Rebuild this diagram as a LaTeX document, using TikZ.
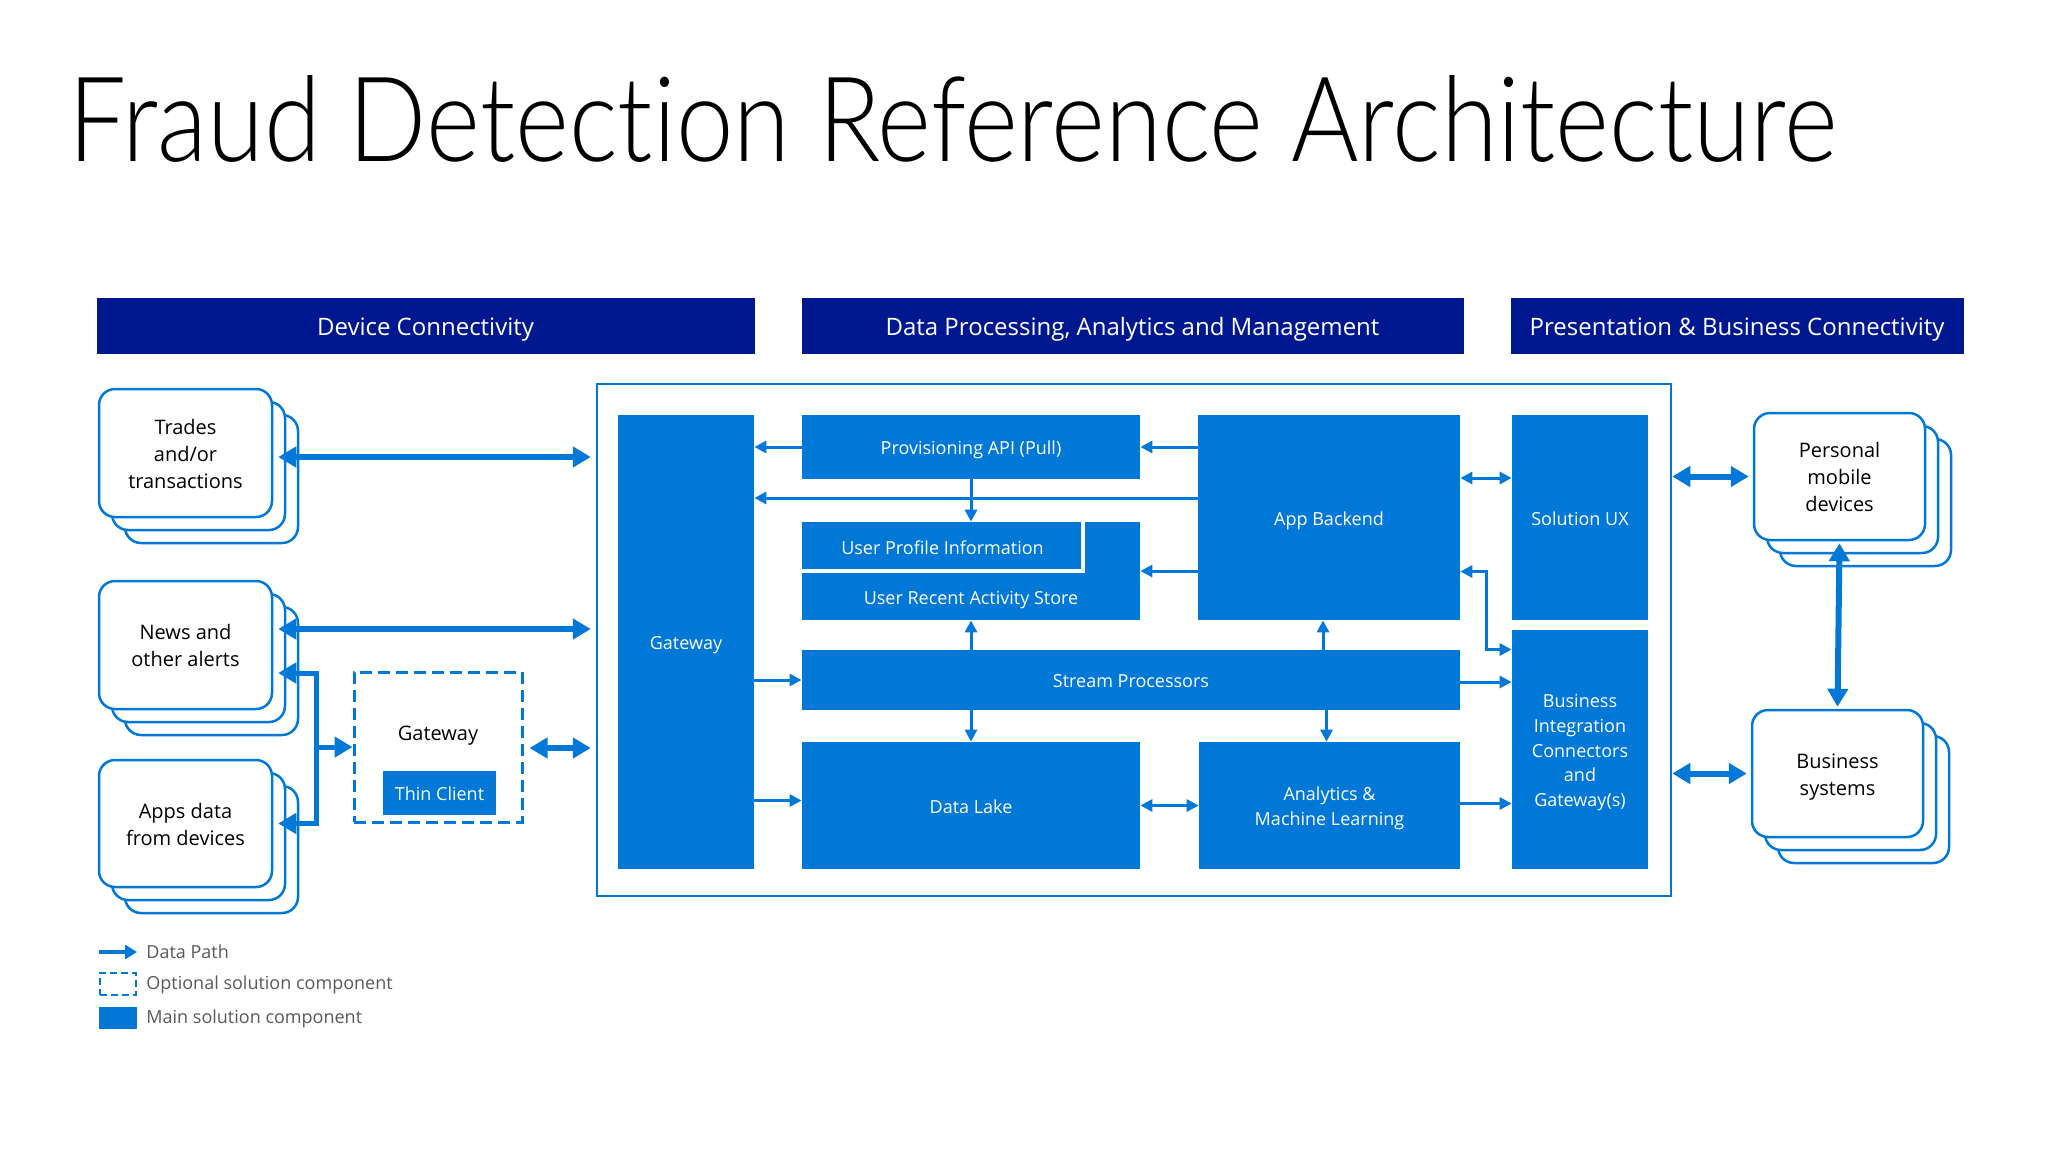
\documentclass[tikz,border=0pt]{standalone}
\usepackage{fontspec}
\setmainfont{Open Sans}
\newfontfamily\titlefont[Ligatures={NoCommon,NoRare}]{Lato Light}
\usetikzlibrary{arrows.meta,calc}
\definecolor{mblue}{RGB}{0,120,215}
\definecolor{navy}{RGB}{0,24,143}
\definecolor{lgray}{RGB}{89,89,89}
\tikzset{
  hdr/.style={fill=navy, draw=navy, inner sep=0pt, text=white, font=\fontsize{12}{14}\selectfont, text height=10pt, text depth=0pt},
  blk/.style={fill=mblue, inner sep=0pt, text=white, align=center, font=\fontsize{9}{12.4}\selectfont, text height=7.5pt, text depth=0pt},
  blktext/.style={inner sep=0pt, text=white, align=center, font=\fontsize{9}{12.4}\selectfont, text height=7.5pt, text depth=0pt},
  stk/.style={draw=mblue, fill=white, line width=1.25pt, rounded corners=8pt, inner sep=0pt, align=center, font=\fontsize{10}{13.5}\selectfont, text height=8.3pt, text depth=0pt},
  cont/.style={draw=mblue, line width=1.25pt, inner sep=0pt},
  dbox/.style={draw=mblue, line width=1.5pt, dash pattern=on 6pt off 3pt, inner sep=0pt},
  thk/.style={draw=mblue, line width=3pt, arrows={Triangle[length=9pt,width=10pt]-Triangle[length=9pt,width=10pt]}},
  med/.style={draw=mblue, line width=2.5pt, line join=miter},
  medtip/.style={arrows={Triangle[length=9pt,width=10pt]-Triangle[length=9pt,width=10pt]}},
  thn/.style={draw=mblue, line width=1.5pt, arrows={-Triangle[length=6pt,width=6pt]}},
  thnb/.style={draw=mblue, line width=1.5pt, arrows={Triangle[length=6pt,width=6pt]-Triangle[length=6pt,width=6pt]}},
  leg/.style={anchor=west, inner sep=0pt, text=lgray, font=\fontsize{9}{11}\selectfont},
}
% \mkbox{name}{x1}{y1}{x2}{y2}{style}{text}
\newcommand\mkbox[7]{%
  \node[#6, minimum width={((#4)-(#2))*0.5pt}, minimum height={((#5)-(#3))*0.5pt}] (#1) at ({((#2)+(#4))/2},{((#3)+(#5))/2}) {#7};}
% \mkstack{name}{x1}{y1}{x2}{y2}{text height}{text}
\newcommand\mkstack[7]{%
  \mkbox{#1-3}{#2+26}{#3+26}{#4+26}{#5+26}{stk}{}
  \mkbox{#1-2}{#2+13}{#3+13}{#4+13}{#5+13}{stk}{}
  \mkbox{#1}{#2}{#3}{#4}{#5}{stk, text height=#6}{#7}
}
\begin{document}
\begin{tikzpicture}[x=0.5pt,y=-0.5pt]
\useasboundingbox (0,0) rectangle (2048,1152);
\fill[white] (0,0) rectangle (2048,1152);

% title
\node[anchor=base west, inner sep=0pt] (title) at (68,161)
  {\resizebox{884pt}{43pt}{\titlefont\fontsize{60}{60}\selectfont Fraud Detection Reference Architecture}};

% headers
\mkbox{h1}{97}{298}{754}{353}{hdr}{Device Connectivity}
\mkbox{h2}{802}{298}{1463}{353}{hdr}{Data Processing, Analytics and Management}
\mkbox{h3}{1511}{298}{1963}{353}{hdr}{Presentation \& Business Connectivity}

% container
\mkbox{cont}{597}{384}{1671}{896}{cont}{}

% blocks
\mkbox{gw}{618}{415}{754}{869}{blk}{Gateway}
\mkbox{prov}{802}{415}{1140}{479}{blk}{Provisioning API (Pull)}
\mkbox{app}{1198}{415}{1460}{620}{blk}{App Backend}
\mkbox{recent}{802}{522}{1140}{620}{blk}{}
\node[blktext] (recentlbl) at ($(recent.south)+(0,-23)$) {User Recent Activity Store};
\mkbox{prof}{802}{522}{1083}{571}{blk}{User Profile Information}
\draw[white, line width=2pt] (prof.north east) -- (prof.south east) -- (prof.south west);
\mkbox{stream}{802}{650}{1460}{710}{blk}{Stream Processors}
\mkbox{lake}{802}{742}{1140}{869}{blk}{Data Lake}
\mkbox{ana}{1199}{742}{1460}{869}{blk, text height=19.9pt}{Analytics \&\\Machine Learning}
\mkbox{ux}{1512}{415}{1648}{620}{blk}{Solution UX}
\mkbox{bi}{1512}{630}{1648}{869}{blk, text height=57.1pt}{Business\\Integration\\Connectors\\and\\Gateway(s)}

% stacks
\mkstack{trades}{99}{389}{272}{517}{35.3pt}{Trades\\and/or\\transactions}
\mkstack{news}{99}{581}{272}{709}{21.8pt}{News and\\other alerts}
\mkstack{apps}{99}{760}{272}{887}{21.8pt}{Apps data\\from devices}
\mkstack{personal}{1754}{413}{1925}{540}{35.3pt}{Personal\\mobile\\devices}
\mkstack{business}{1752}{710}{1923}{837}{21.8pt}{Business\\systems}

% optional gateway
\mkbox{dgw}{354}{672}{522}{822}{dbox}{}
\node[inner sep=0pt, font=\fontsize{10}{12}\selectfont] (dgwlbl) at (438,736) {Gateway};
\mkbox{thin}{383}{771}{496}{815}{blk}{Thin Client}

% left arrows
\draw[thk] ($(trades.east)+(5,4)$) -- ($(cont.west |- trades.east)+(-5,4)$);
\draw[thk] ($(news.east)+(5,-16)$) -- ($(cont.west |- news.east)+(-5,-16)$);
\coordinate (bx) at (315,747);
\draw[med, medtip] ($(news.east)+(5,28)$) -- ($(news.east)+(43,28)$) -- ($(apps.east)+(43,0)$) -- ($(apps.east)+(5,0)$);
\draw[med, arrows={-Triangle[length=9pt,width=10pt]}] (bx) -- (dgw.west |- bx);
\draw[thk] ($(dgw.east)+(6,1)$) -- ($(cont.west |- dgw.east)+(-5,1)$);

% inner arrows
\draw[thn] (prov.west) -- (prov.west -| gw.east);
\draw[thn] (app.west |- prov.east) -- (prov.east);
\draw[thn] ($(app.west)+(0,-19.5)$) -- ($(gw.east |- app.west)+(0,-19.5)$);
\draw[thn] (prov.south) -- (prov.south |- recent.north);
\draw[thn] ($(app.west)+(0,53.5)$) -- ($(recent.east |- app.west)+(0,53.5)$);
\draw[thn] (recent.south |- stream.north) -- (recent.south);
\draw[thn] ($(app.south |- stream.north)+(-6,0)$) -- ($(app.south)+(-6,0)$);
\draw[thn] (gw.east |- stream.west) -- (stream.west);
\draw[thn] ($(gw.east |- lake.west)+(0,-5)$) -- ($(lake.west)+(0,-5)$);
\draw[thn] (lake.north |- stream.south) -- (lake.north);
\draw[thn] ($(ana.north |- stream.south)+(-3,0)$) -- ($(ana.north)+(-3,0)$);
\draw[thnb] (lake.east) -- (ana.west);
\draw[thnb] ($(app.east)+(0,-39.5)$) -- ($(ux.west |- app.east)+(0,-39.5)$);
\draw[thnb] ($(app.east)+(0,54)$) -- ++(26,0) |- ($(bi.west)+(0,-100)$);
\draw[thn] ($(stream.east)+(0,2)$) -- ($(bi.west |- stream.east)+(0,2)$);
\draw[thn] ($(ana.east)+(0,-2)$) -- ($(bi.west |- ana.east)+(0,-2)$);

% right arrows
\draw[thk] (cont.east |- personal.west) -- ($(personal.west)+(-4,0)$);
\draw[thk] (cont.east |- business.west) -- ($(business.west)+(-4,0)$);
\draw[thk] ($(personal.south)+(0,2)$) -- ($(business.north)+(0,-2)$);

% legend
\coordinate (l1a) at (99,952);
\coordinate (l1b) at (137,952);
\draw[draw=mblue, line width=2pt, arrows={-Triangle[length=6pt,width=7pt]}] (l1a) -- (l1b);
\node[leg] (lt1) at (146,952) {Data Path};
\mkbox{l2}{100}{973}{136}{995}{dbox, line width=1.25pt, dash pattern=on 3.5pt off 2pt}{}
\node[leg] (lt2) at (146,985) {Optional solution component};
\mkbox{l3}{99}{1007}{137}{1029}{blk}{}
\node[leg] (lt3) at (146,1019) {Main solution component};
\end{tikzpicture}
\end{document}
